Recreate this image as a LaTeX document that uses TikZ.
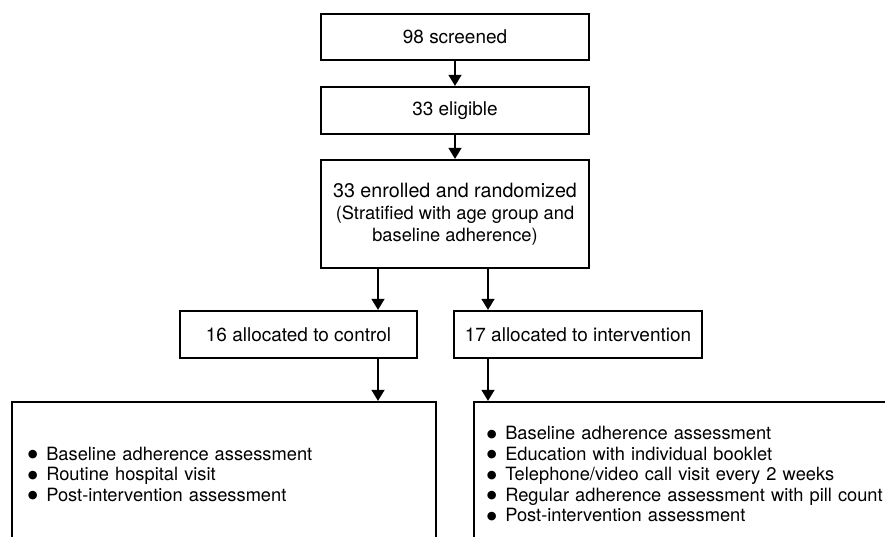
\documentclass[tikz,border=0pt]{standalone}
\usepackage{fontspec}
\setmainfont{TeX Gyre Heros}
\newfontfamily\bulletfont{DejaVu Sans}
\usetikzlibrary{arrows.meta}

\newcommand{\itm}[1]{\makebox[1em][l]{\raisebox{0.25ex}{\fontsize{8}{9}\bulletfont ●}}#1}

\begin{document}
\begin{tikzpicture}[x=0.025cm, y=-0.025cm,
	box/.style={draw, line width=1.4pt, align=center, inner sep=0pt, font=\fontsize{13.5}{15.6}\selectfont},
	list/.style={draw, line width=1.4pt, align=left, anchor=north west, minimum height=3.6cm, font=\fontsize{13}{14.6}\selectfont},
	arr/.style={line width=2.1pt, -{Triangle[width=9pt, length=8pt]}}]
		
		\clip (0,0) rectangle (885,537);
		\fill[white] (0,0) rectangle (885,537);
		
		% Screening and enrolment
		\node[box, minimum width=6.7cm, minimum height=1.15cm] (screened) at (455,37) {98 screened};
		\node[box, minimum width=6.7cm, minimum height=1.175cm] (eligible) at (455,110.5) {33 eligible};
		\node[box, minimum width=6.7cm, minimum height=2.7cm, font=\fontsize{13}{15.6}\selectfont] (enrolled) at (455,214)
		{{\fontsize{14}{15.6}\selectfont 33 enrolled and randomized}\\(Stratified with age group and\\baseline adherence)};
		
		% Allocation
		\node[box, minimum width=5.925cm, minimum height=1.175cm] (control) at (298.5,334.5) {16 allocated to control};
		\node[box, minimum width=6.2cm, minimum height=1.175cm] (interv) at (578,334.5) {17 allocated to intervention};
		
		% Activities
		\node[list, minimum width=10.6cm, inner xsep=0.4cm, text width=9.8cm] (ctrlact) at (11,401)
		{\itm{Baseline adherence assessment}\\
		 \itm{Routine hospital visit}\\
		 \itm{Post-intervention assessment}};
		\node[list, minimum width=10.75cm, inner xsep=0.325cm, text width=10.1cm] (intact) at (473,401)
		{\itm{Baseline adherence assessment}\\
		 \itm{Education with individual booklet}\\
		 \itm{Telephone/video call visit every 2 weeks}\\
		 \itm{Regular adherence assessment with pill count}\\
		 \itm{Post-intervention assessment}};
		
		% Arrows
		\coordinate (lx) at (378,0);
		\coordinate (rx) at (488,0);
		\draw[arr] (screened.south) -- (eligible.north);
		\draw[arr] (eligible.south) -- (enrolled.north);
		\draw[arr] (lx |- enrolled.south) -- (lx |- control.north);
		\draw[arr] (rx |- enrolled.south) -- (rx |- interv.north);
		\draw[arr] (lx |- control.south) -- (lx |- ctrlact.north);
		\draw[arr] (rx |- interv.south) -- (rx |- intact.north);
		
	\end{tikzpicture}
\end{document}
